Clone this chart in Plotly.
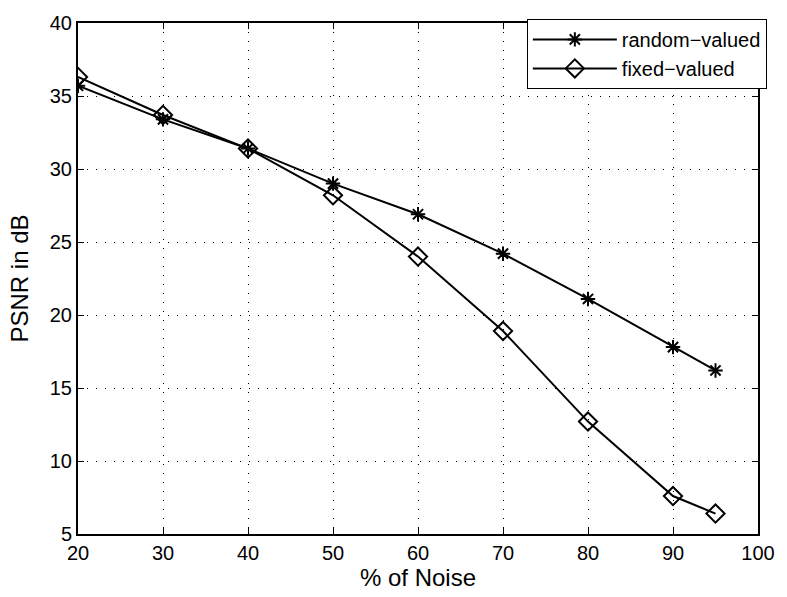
import plotly.graph_objects as go

noise = [20, 30, 40, 50, 60, 70, 80, 90, 95]
random_valued = [35.7, 33.4, 31.4, 29.0, 26.9, 24.2, 21.1, 17.8, 16.2]
fixed_valued = [36.3, 33.7, 31.4, 28.2, 24.0, 18.9, 12.7, 7.6, 6.4]

x_ticks = [20, 30, 40, 50, 60, 70, 80, 90, 100]
y_ticks = [5, 10, 15, 20, 25, 30, 35, 40]

font = "Liberation Sans, Arial, Helvetica, sans-serif"

fig = go.Figure()
fig.add_trace(go.Scatter(
    x=noise, y=random_valued, name="random\u2212valued", mode="lines+markers",
    line=dict(color="black", width=2),
    marker=dict(symbol="asterisk-open", size=12, color="black",
                line=dict(color="black", width=2)),
))
fig.add_trace(go.Scatter(
    x=noise, y=fixed_valued, name="fixed\u2212valued", mode="lines+markers",
    line=dict(color="black", width=2),
    marker=dict(symbol="diamond-open", size=14, color="black",
                line=dict(color="black", width=2)),
))

axis_common = dict(
    showline=True, linecolor="black", linewidth=2, mirror="ticks",
    ticks="inside", ticklen=6, tickcolor="black", tickwidth=1,
    showgrid=True, gridcolor="black", gridwidth=1, griddash="1px,8px",
    zeroline=False, tickfont=dict(family=font, size=20, color="black"),
)

fig.update_xaxes(range=[20, 100], tickvals=x_ticks,
                 title=dict(text="% of Noise", font=dict(family=font, size=24, color="black"),
                            standoff=4),
                 **axis_common)
fig.update_yaxes(range=[5, 40], tickvals=y_ticks,
                 title=dict(text="PSNR in dB", font=dict(family=font, size=24, color="black"),
                            standoff=14),
                 **axis_common)

fig.update_layout(
    width=787, height=597,
    margin=dict(l=78, r=21, t=18, b=59),
    paper_bgcolor="white", plot_bgcolor="white",
    font=dict(family=font, color="black"),
    legend=dict(x=1.013, y=1.008, xanchor="right", yanchor="top",
                bgcolor="white", bordercolor="black", borderwidth=1,
                font=dict(family=font, size=20, color="black"),
                itemwidth=84),
)

fig.write_html("out.html")
